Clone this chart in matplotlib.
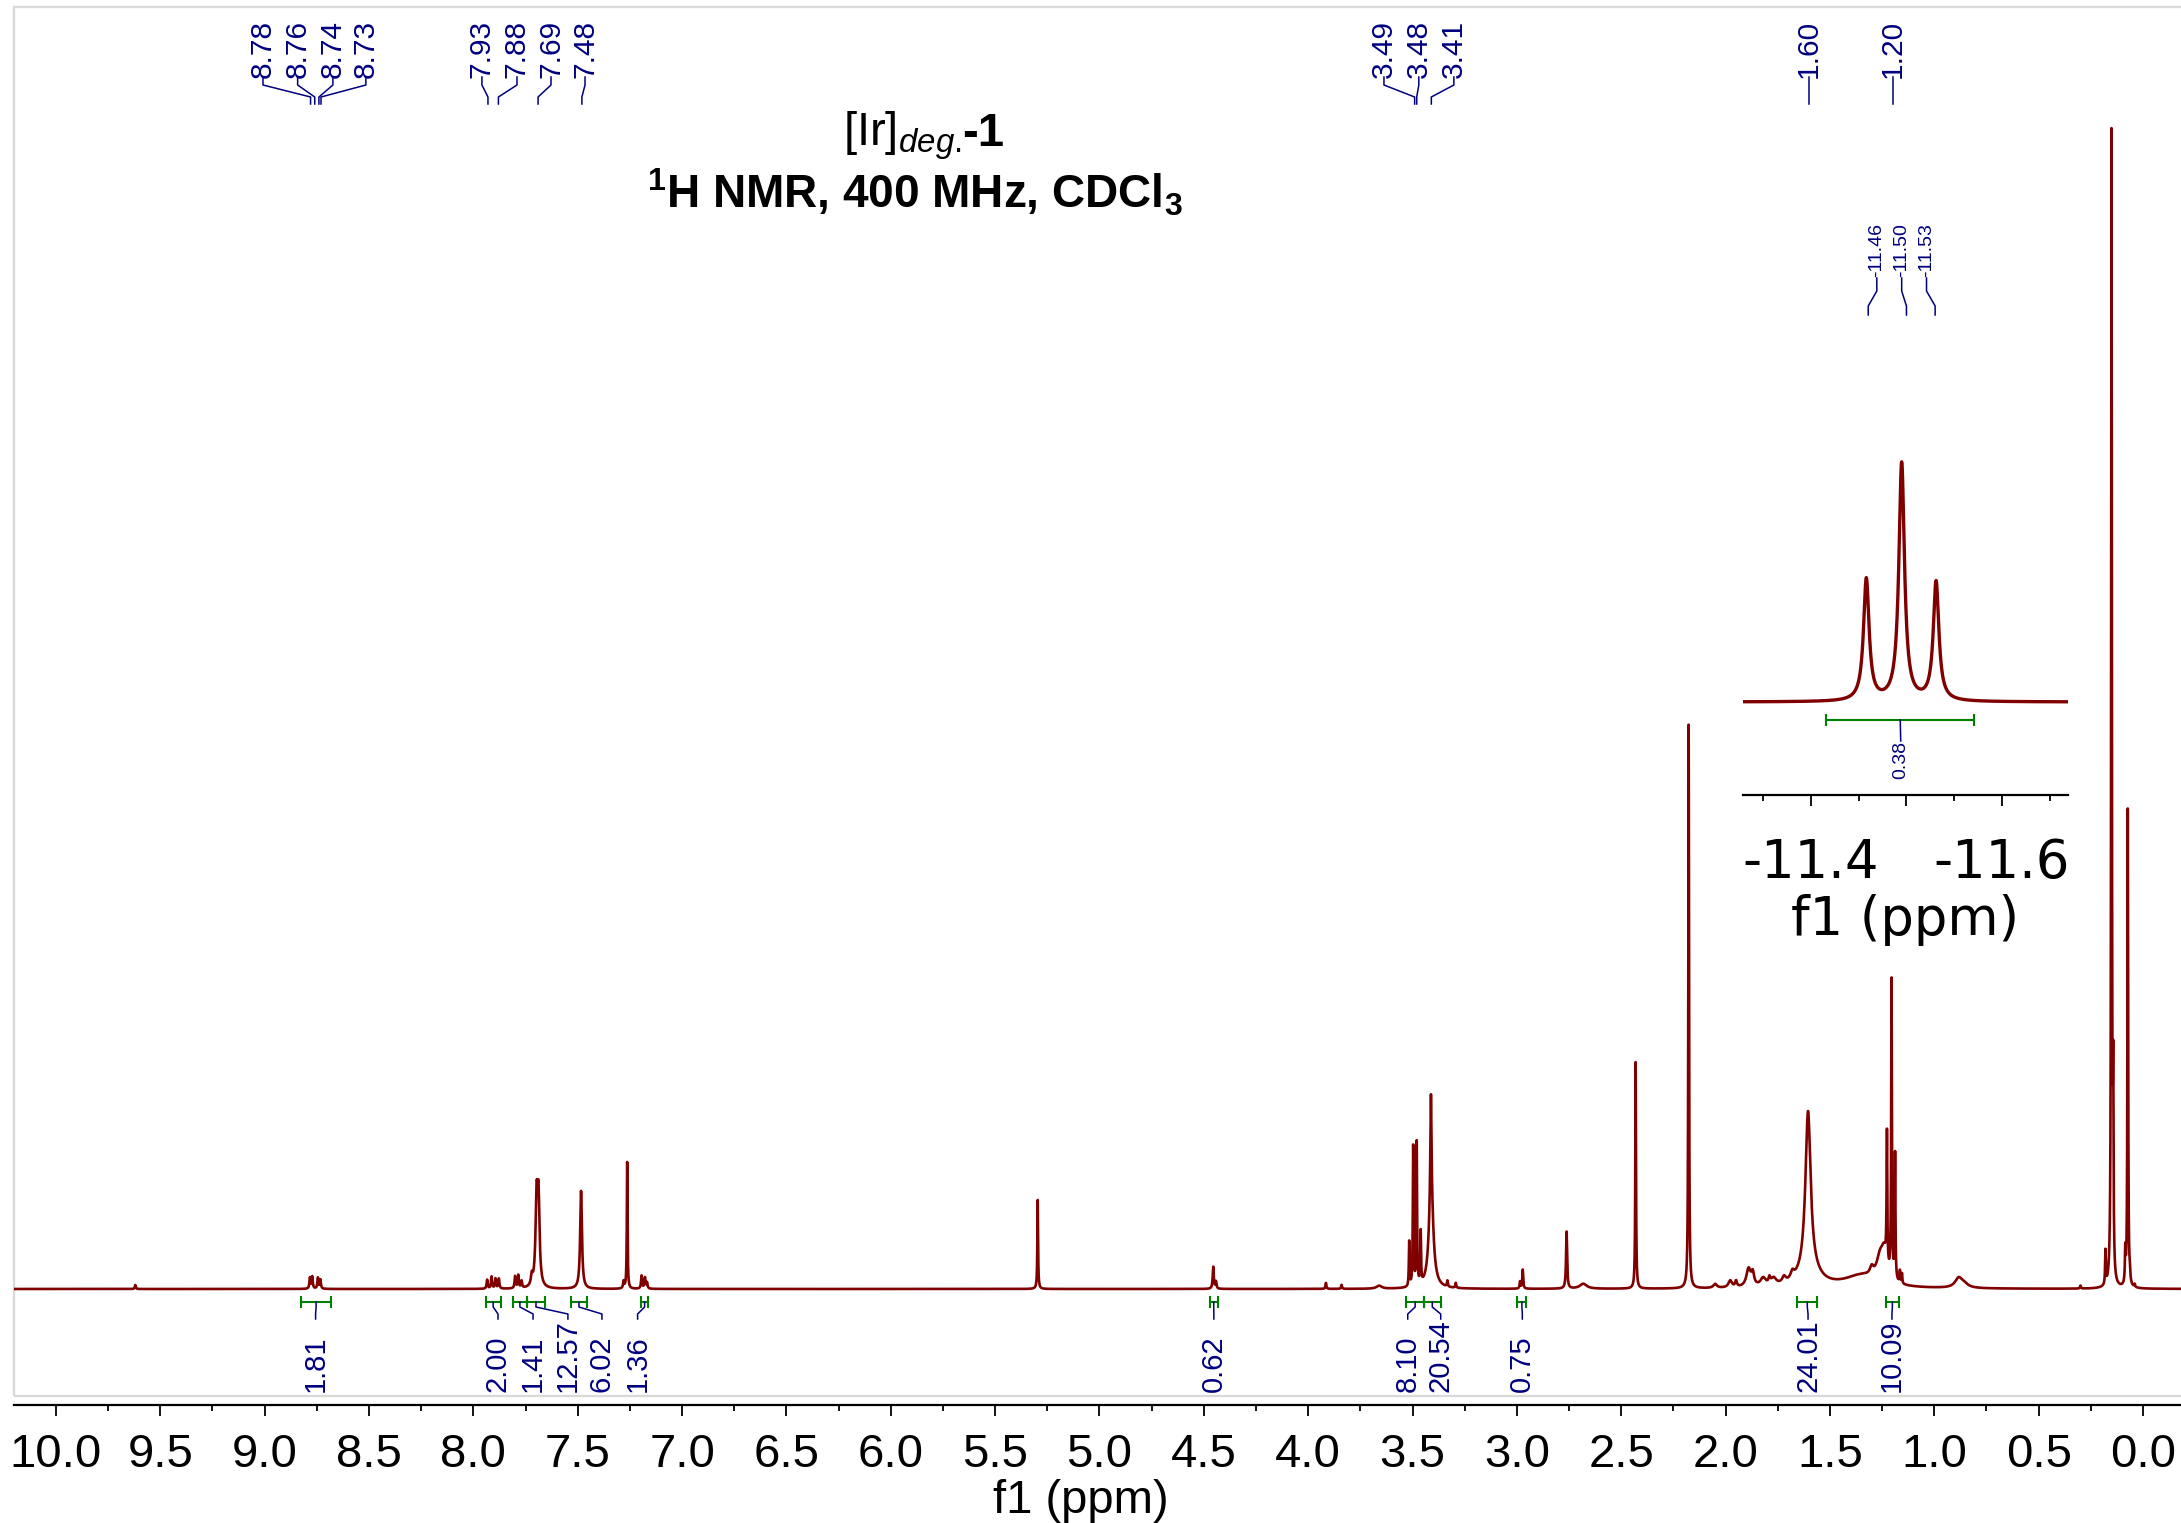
import numpy as np
import matplotlib
matplotlib.use("Agg")
import matplotlib.pyplot as plt
from matplotlib.transforms import blended_transform_factory
from matplotlib.patches import Rectangle
from matplotlib.ticker import MultipleLocator, FixedLocator, FuncFormatter

W, H = 2181, 1523
RED = "#800000"
NAVY = "#000080"
GREEN = "#008000"
ARIAL = ["Liberation Sans", "DejaVu Sans"]

plt.rcParams["mathtext.fontset"] = "custom"
plt.rcParams["mathtext.rm"] = "Liberation Sans"
plt.rcParams["mathtext.it"] = "Liberation Sans:italic"
plt.rcParams["mathtext.bf"] = "Liberation Sans:bold"

# main spectrum peak list: shift (ppm), height (a.u.), width (ppm)
peak_ppm = [9.62, 8.783, 8.772, 8.745, 8.733,
            7.934, 7.913, 7.894, 7.878, 7.800, 7.785, 7.769, 7.72, 7.697, 7.688,
            7.484, 7.28, 7.263, 7.194, 7.178, 7.168,
            5.296, 4.455, 4.442, 3.915, 3.84, 3.66,
            3.516, 3.497, 3.480, 3.461, 3.411, 3.412, 3.333, 3.293,
            2.985, 2.972, 2.762, 2.682, 2.431, 2.177,
            2.05, 1.978, 1.95, 1.89, 1.87, 1.82, 1.79, 1.77, 1.72, 1.68,
            1.605, 1.60, 1.35, 1.30, 1.26, 1.24, 1.227, 1.205, 1.188, 1.165, 1.155,
            0.884, 0.86, 0.30, 0.18, 0.151, 0.143, 0.085, 0.073, 0.063, 0.04]
peak_height = [4, 11, 12, 11, 9,
               9, 12, 10, 10, 12, 13, 7, 10, 82, 82,
               98, 7, 127, 13, 11, 6,
               89, 22, 7, 6, 4, 3,
               45, 140, 143, 52, 95, 100, 6, 5,
               7, 19, 57, 5, 227, 564,
               4, 7, 6, 18, 12, 8, 6, 7, 6, 7,
               162, 14, 12, 8, 22, 25, 132, 298, 126, 12, 10,
               9, 4, 3, 34, 1150, 180, 32, 480, 8, 3]
peak_width = [0.005, 0.006, 0.006, 0.006, 0.006,
              0.006, 0.006, 0.006, 0.006, 0.006, 0.006, 0.006, 0.01, 0.012, 0.012,
              0.01, 0.006, 0.004, 0.006, 0.006, 0.006,
              0.004, 0.006, 0.006, 0.005, 0.005, 0.03,
              0.004, 0.004, 0.004, 0.004, 0.025, 0.006, 0.005, 0.005,
              0.005, 0.005, 0.006, 0.04, 0.004, 0.004,
              0.02, 0.02, 0.01, 0.025, 0.015, 0.03, 0.01, 0.03, 0.02, 0.02,
              0.03, 0.12, 0.2, 0.02, 0.04, 0.03, 0.004, 0.004, 0.004, 0.004, 0.004,
              0.04, 0.05, 0.005, 0.004, 0.004, 0.004, 0.004, 0.004, 0.004, 0.005]

# hydride region shown in the inset
inset_ppm = [-11.458, -11.495, -11.531]
inset_height = [122, 238, 119]
inset_width = [0.007, 0.007, 0.007]

# peak picking labels (text) and where the label text sits (ppm)
pick_labels = ["8.78", "8.76", "8.74", "8.73", "7.93", "7.88", "7.69", "7.48",
               "3.49", "3.48", "3.41", "1.60", "1.20"]
pick_label_pos = [9.008, 8.842, 8.673, 8.515, 7.959, 7.791, 7.628, 7.465,
                  3.637, 3.470, 3.302, 1.60, 1.20]
inset_pick = ["-11.46", "-11.50", "-11.53"]
inset_pick_pos = [-11.469, -11.495, -11.521]

# integrals: range start/end (ppm), value, label position (ppm)
int_start = [8.824, 7.941, 7.809, 7.745, 7.534, 7.198, 4.472, 3.529, 3.446, 2.998, 1.657, 1.231]
int_end = [8.683, 7.869, 7.745, 7.655, 7.454, 7.161, 4.433, 3.446, 3.365, 2.954, 1.560, 1.171]
int_values = ["1.81", "2.00", "1.41", "12.57", "6.02", "1.36", "0.62", "8.10", "20.54", "0.75", "24.01", "10.09"]
int_label_pos = [8.756, 7.882, 7.714, 7.547, 7.384, 7.213, 4.452, 3.523, 3.365, 2.974, 1.605, 1.203]
inset_int = (-11.416, -11.571, "0.38", -11.494)


def spectrum(x, centers, heights, widths):
    y = np.zeros_like(x)
    for c, h, w in zip(centers, heights, widths):
        g = w / 2.0
        y += h * g**2 / ((x - c)**2 + g**2)
    return y


def fy(ypix):
    return 1 - ypix / H


fig = plt.figure(figsize=(W / 100, H / 100), dpi=100)

# main axes
ax = fig.add_axes([14 / W, fy(1396), (W - 14) / W, (1396 - 7) / H])
x = np.linspace(10.3, -0.3, 40001)
ax.plot(x, spectrum(x, peak_ppm, peak_height, peak_width), color=RED, lw=1.9)
ax.set_xlim(10.201, -0.182)
ax.set_ylim(-107, 1282)
for s in ["top", "left", "right"]:
    ax.spines[s].set_visible(False)
ax.spines["bottom"].set_position(("outward", 6.5))
ax.spines["bottom"].set_linewidth(1.6)
ax.set_yticks([])
ax.xaxis.set_major_locator(MultipleLocator(0.5))
ax.xaxis.set_minor_locator(MultipleLocator(0.25))
ax.xaxis.set_major_formatter(FuncFormatter(lambda v, p: f"{abs(v):.1f}"))
ax.tick_params(axis="x", which="major", direction="out", length=8, width=1.3, pad=12, labelsize=34)
ax.tick_params(axis="x", which="minor", direction="out", length=4, width=1.3)
for lab in ax.get_xticklabels():
    lab.set_family(ARIAL)
fig.text(1081 / W, fy(1479), "f1 (ppm)", ha="center", va="top", fontsize=34, family=ARIAL)
ax.add_patch(Rectangle((0, 0), 1.01, 1, transform=ax.transAxes, fill=False,
                       ec="#d9d9d9", lw=1.6, clip_on=False))

tr = blended_transform_factory(ax.transData, fig.transFigure)

# peak picking labels
for lab, lpos in zip(pick_labels, pick_label_pos):
    p = float(lab)
    ax.plot([lpos, lpos, p, p], [fy(77), fy(85), fy(97), fy(104)], color=NAVY,
            lw=1.1, transform=tr, clip_on=False)
    ax.text(lpos, fy(78), lab, rotation=90, ha="center", va="bottom", color=NAVY,
            fontsize=21.5, family=ARIAL, transform=tr)

# integrals
for a, b, v, lpos in zip(int_start, int_end, int_values, int_label_pos):
    c = (a + b) / 2
    ax.plot([a, b], [fy(1302), fy(1302)], color=GREEN, lw=1.5, transform=tr, clip_on=False)
    for e in (a, b):
        ax.plot([e, e], [fy(1297), fy(1307)], color=GREEN, lw=1.5, transform=tr, clip_on=False)
    ax.plot([c, c, lpos, lpos], [fy(1302), fy(1307), fy(1314), fy(1319)], color=NAVY,
            lw=1.1, transform=tr, clip_on=False)
    ax.text(lpos, fy(1392), v, rotation=90, ha="center", va="bottom", color=NAVY,
            fontsize=21, family=ARIAL, transform=tr)

# inset with the hydride triplet
axi = fig.add_axes([1743 / W, fy(795), (2068 - 1743) / W, (795 - 200) / H])
axi.patch.set_alpha(0)
xi = np.linspace(-11.3, -11.7, 4001)
axi.plot(xi, spectrum(xi, inset_ppm, inset_height, inset_width), color=RED, lw=2.4)
axi.set_xlim(-11.329, -11.669)
axi.set_ylim(-93, 502)
for s in ["top", "left", "right"]:
    axi.spines[s].set_visible(False)
axi.spines["bottom"].set_linewidth(1.6)
axi.set_yticks([])
axi.xaxis.set_major_locator(FixedLocator([-11.4, -11.5, -11.6]))
axi.xaxis.set_minor_locator(FixedLocator([-11.35, -11.45, -11.55, -11.65]))
axi.xaxis.set_major_formatter(FuncFormatter(lambda v, p: "" if abs(v + 11.5) < 1e-6 else f"{v:.1f}"))
axi.tick_params(axis="x", which="major", direction="out", length=8, width=1.3, pad=22, labelsize=38)
axi.tick_params(axis="x", which="minor", direction="out", length=4.5, width=1.3)
axi.set_xlabel("f1 (ppm)", fontsize=38, labelpad=4)

tri = blended_transform_factory(axi.transData, fig.transFigure)
for lab, lpos in zip(inset_pick, inset_pick_pos):
    p = float(lab)
    axi.plot([lpos, lpos, p, p], [fy(278), fy(291), fy(306), fy(315)], color=NAVY,
             lw=1.1, transform=tri, clip_on=False)
    axi.text(lpos, fy(277), lab, rotation=90, ha="center", va="bottom", color=NAVY,
             fontsize=14, family=ARIAL, transform=tri)

a, b, v, lpos = inset_int
axi.plot([a, b], [fy(720), fy(720)], color=GREEN, lw=1.5, transform=tri, clip_on=False)
for e in (a, b):
    axi.plot([e, e], [fy(715), fy(725)], color=GREEN, lw=1.5, transform=tri, clip_on=False)
axi.plot([(a + b) / 2, lpos], [fy(720), fy(741)], color=NAVY, lw=1.1, transform=tri, clip_on=False)
axi.text(lpos, fy(779), v, rotation=90, ha="center", va="bottom", color=NAVY,
         fontsize=14, family=ARIAL, transform=tri)

# title
fig.text(962 / W, fy(146), r"[Ir]$_{\mathit{deg.}}$", ha="right", va="baseline",
         fontsize=34, family=ARIAL)
fig.text(962 / W, fy(146), "-1", ha="left", va="baseline", fontsize=34,
         family=ARIAL, weight="bold")
fig.text(915 / W, fy(208), r"$^{\mathbf{1}}$H NMR, 400 MHz, CDCl$_{\mathbf{3}}$",
         ha="center", va="baseline", fontsize=33, family=ARIAL, weight="bold")

fig.savefig("out.png", dpi=100)
